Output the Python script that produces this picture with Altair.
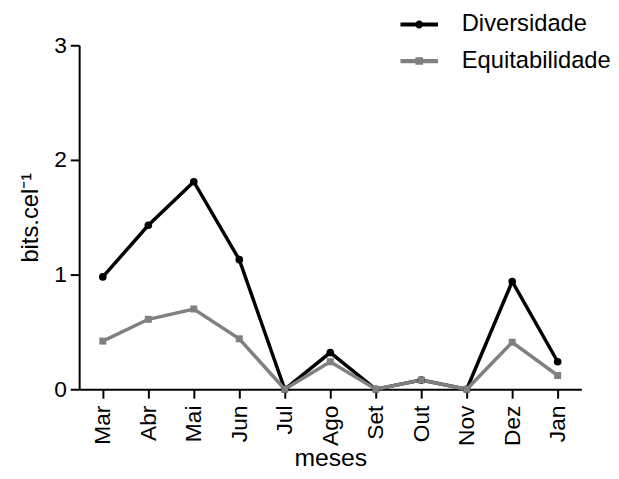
import altair as alt
import pandas as pd

meses = ["Mar", "Abr", "Mai", "Jun", "Jul", "Ago", "Set", "Out", "Nov", "Dez", "Jan"]
diversidade = [0.98, 1.43, 1.81, 1.13, 0.0, 0.32, 0.0, 0.08, 0.0, 0.94, 0.24]
equitabilidade = [0.42, 0.61, 0.70, 0.44, 0.0, 0.24, 0.0, 0.08, 0.0, 0.41, 0.12]
series = ["Diversidade", "Equitabilidade"]
colors = ["#000000", "#808080"]
y_ticks = [0, 1, 2, 3]

df = pd.DataFrame({
    "mes": meses * 2,
    "valor": diversidade + equitabilidade,
    "serie": [series[0]] * len(meses) + [series[1]] * len(meses),
})

FONT = "Liberation Sans"

legend_paths = [
    "M-1,-0.11L1,-0.11L1,0.11L-1,0.11Z M-0.21,0A0.21,0.21 0 1,1 0.21,0A0.21,0.21 0 1,1 -0.21,0Z",
    "M-1,-0.11L1,-0.11L1,0.11L-1,0.11Z M-0.2,-0.2L0.2,-0.2L0.2,0.2L-0.2,0.2Z",
]

x_enc = alt.X(
    "mes:N", sort=meses,
    scale=alt.Scale(type="point", padding=0.52),
    axis=alt.Axis(title="meses", labelAngle=270, labelFont=FONT, labelFontSize=23,
                  labelColor="black", labelPadding=7, tickSize=9, tickWidth=2,
                  tickColor="black", domainColor="black", domainWidth=2,
                  titleFont=FONT, titleFontSize=25, titleFontWeight="normal",
                  titleColor="black", titlePadding=0, grid=False),
)
y_enc = alt.Y(
    "valor:Q",
    scale=alt.Scale(domain=[0, 3], nice=False, zero=True),
    axis=alt.Axis(title="bits.cel⁻¹", values=y_ticks, format="d", labelFont=FONT,
                  labelFontSize=23, labelColor="black", labelPadding=4, tickSize=9,
                  tickWidth=2, tickColor="black", domainColor="black", domainWidth=2,
                  titleFont=FONT, titleFontSize=24, titleFontWeight="normal",
                  titleColor="black", titlePadding=11, grid=False),
)
color_scale = alt.Scale(domain=series, range=colors)

base = alt.Chart(df)

lines = base.mark_line(strokeWidth=3.5).encode(
    x=x_enc, y=y_enc,
    color=alt.Color("serie:N", scale=color_scale),
)

pts_div = base.transform_filter(alt.datum.serie == series[0]).mark_point(
    shape="circle", filled=True, size=60, opacity=1
).encode(x=x_enc, y=y_enc, color=alt.Color("serie:N", scale=color_scale))

pts_eq = base.transform_filter(alt.datum.serie == series[1]).mark_point(
    shape="square", filled=True, size=50, opacity=1
).encode(x=x_enc, y=y_enc, color=alt.Color("serie:N", scale=color_scale))

leg = dict(title=None, orient="none", legendX=325, legendY=-40,
           symbolSize=1444, symbolStrokeWidth=0,
           labelFont=FONT, labelFontSize=24, labelColor="black",
           labelOffset=24, rowPadding=6, padding=0)

legend_layer = base.transform_filter("false").mark_point(filled=True, opacity=1).encode(
    color=alt.Color("serie:N", scale=color_scale, legend=alt.Legend(**leg)),
    shape=alt.Shape("serie:N", scale=alt.Scale(domain=series, range=legend_paths),
                    legend=alt.Legend(**leg)),
)

chart = alt.layer(lines, pts_div, pts_eq, legend_layer).properties(
    width=508, height=348,
    autosize=alt.AutoSizeParams(type="none"),
    padding={"left": 72, "top": 35, "right": 30, "bottom": 80},
    background="white",
).configure_view(stroke=None)

chart.save("out.html", embed_options={"renderer": "svg", "actions": False})
